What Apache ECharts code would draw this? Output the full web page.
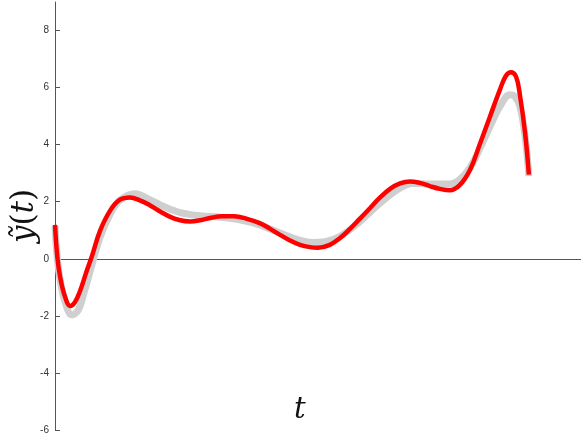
<!DOCTYPE html>
<html>
<head>
<meta charset="utf-8">
<script src="https://cdn.jsdelivr.net/npm/echarts@6/dist/echarts.min.js"></script>
<style>
  html, body { margin: 0; padding: 0; background: #fff; }
  #main { width: 581px; height: 436px; }
</style>
</head>
<body>
<div id="main"></div>
<script>
// values
var redT = [0, 0.05, 0.11, 0.21, 0.32, 0.42, 0.53, 0.65, 0.78, 0.95, 1.16, 1.37, 1.58, 1.79, 2.00, 2.22, 2.43, 2.64, 2.85, 3.06, 3.27, 3.52, 3.78, 4.05, 4.32, 4.54, 4.75, 4.96, 5.17, 5.38, 5.55, 5.80, 6.01, 6.22, 6.43, 6.65, 6.86, 7.07, 7.28, 7.49, 7.70, 7.91, 8.12, 8.33, 8.54, 8.76, 8.97, 9.18, 9.39, 9.51, 9.62, 9.73, 9.81, 9.92, 10.0];
var redY = [1.19, 0.05, -0.65, -1.32, -1.65, -1.52, -1.12, -0.52, 0.10, 0.98, 1.68, 2.07, 2.15, 2.05, 1.88, 1.66, 1.47, 1.35, 1.31, 1.35, 1.43, 1.49, 1.49, 1.40, 1.25, 1.05, 0.84, 0.64, 0.49, 0.41, 0.39, 0.49, 0.72, 1.04, 1.40, 1.78, 2.15, 2.45, 2.64, 2.71, 2.66, 2.55, 2.45, 2.40, 2.58, 3.12, 4.04, 4.99, 5.93, 6.40, 6.54, 6.38, 5.75, 4.41, 2.95];

var grayT = [0, 0.05, 0.11, 0.21, 0.36, 0.49, 0.61, 0.74, 0.95, 1.16, 1.37, 1.69, 2.00, 2.22, 2.43, 2.64, 3.06, 3.48, 3.90, 4.32, 4.75, 5.17, 5.44, 5.70, 6.01, 6.43, 6.86, 7.28, 7.55, 7.91, 8.33, 8.54, 8.76, 8.97, 9.18, 9.39, 9.60, 9.70, 9.81, 9.92, 10.0];
var grayY = [1.15, 0.0, -0.75, -1.50, -1.97, -1.80, -1.20, -0.45, 0.75, 1.55, 2.05, 2.28, 2.07, 1.89, 1.74, 1.62, 1.51, 1.46, 1.37, 1.19, 0.90, 0.65, 0.57, 0.60, 0.78, 1.30, 1.95, 2.48, 2.64, 2.62, 2.62, 2.78, 3.20, 3.88, 4.64, 5.34, 5.75, 5.70, 5.34, 4.29, 2.90];

var yTicks = [-6, -4, -2, 0, 2, 4, 6, 8];

function pairs(xs, ys) {
    return xs.map(function (x, i) { return [x, ys[i]]; });
}

var chart = echarts.init(document.getElementById('main'));

var option = {
    animation: false,
    grid: { left: 55, right: 0, top: 2, bottom: 6, containLabel: false, outerBoundsMode: 'none' },
    xAxis: {
        type: 'value',
        min: 0,
        max: 11.1,
        axisLine: { show: true, onZero: true, lineStyle: { color: '#555', width: 1 } },
        axisTick: { show: false },
        axisLabel: { show: false },
        splitLine: { show: false }
    },
    yAxis: {
        type: 'value',
        min: -6,
        max: 9,
        interval: 1,
        name: '{i|ỹ}{n|(}{i|t}{n|)}',
        nameLocation: 'middle',
        nameRotate: 90,
        nameGap: 15,
        nameMoveOverlap: false,
        nameTextStyle: {
            rich: {
                i: { fontFamily: 'DejaVu Serif', fontStyle: 'italic', fontSize: 31, color: '#111' },
                n: { fontFamily: 'DejaVu Serif', fontSize: 31, color: '#111' }
            }
        },
        axisLine: { show: true, lineStyle: { color: '#555', width: 1 } },
        axisTick: { show: true, inside: true, length: 5, customValues: yTicks, lineStyle: { color: '#555' } },
        axisLabel: {
            customValues: yTicks,
            margin: 6,
            fontFamily: 'Liberation Sans',
            fontSize: 10,
            color: '#333'
        },
        splitLine: { show: false }
    },
    graphic: [{
        type: 'text',
        left: 294,
        top: 396,
        style: { text: 't', font: 'italic 29px "DejaVu Serif"', fill: '#111' }
    }],
    series: [
        {
            name: 'gray',
            type: 'line',
            data: pairs(grayT, grayY),
            smooth: 0.4,
            showSymbol: false,
            lineStyle: { color: '#cfcfcf', width: 7 }
        },
        {
            name: 'red',
            type: 'line',
            data: pairs(redT, redY),
            smooth: 0.4,
            showSymbol: false,
            lineStyle: { color: '#ff0000', width: 4.5 }
        }
    ]
};

chart.setOption(option);
</script>
</body>
</html>
